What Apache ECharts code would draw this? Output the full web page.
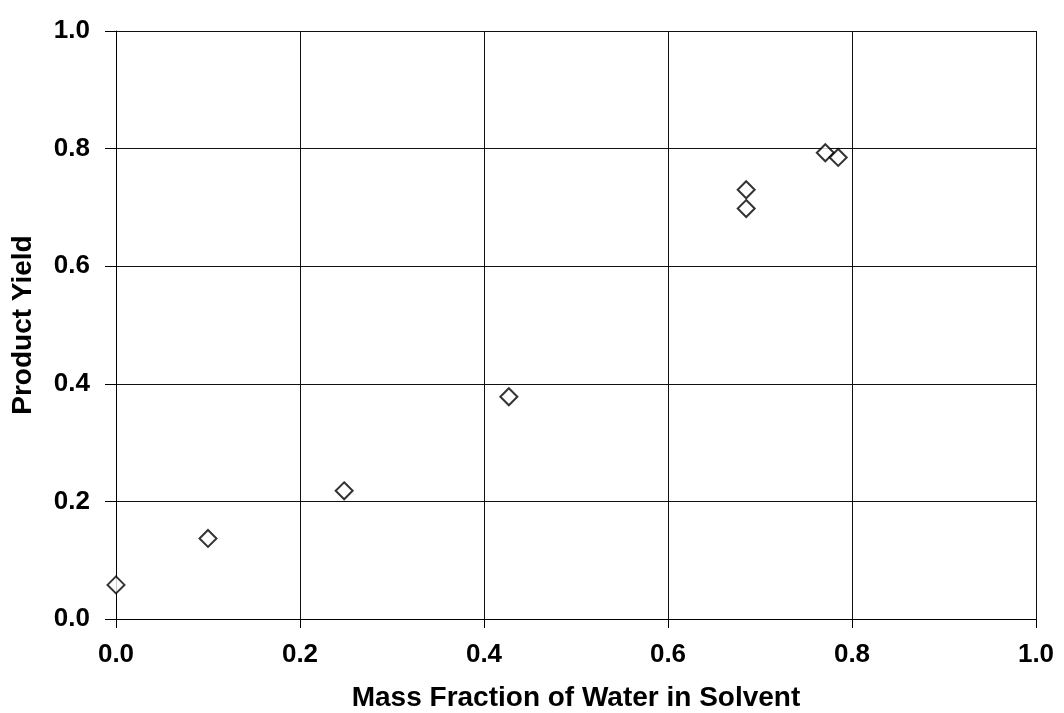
<!DOCTYPE html>
<html>
<head>
<meta charset="utf-8">
<script src="https://cdn.jsdelivr.net/npm/echarts@6/dist/echarts.min.js"></script>
<style>
  html, body { margin: 0; padding: 0; background: #fff; }
  #chart { width: 1064px; height: 713px; }
</style>
</head>
<body>
<div id="chart"></div>
<script>
// mass fraction of water vs. product yield
const waterFraction = [0.0, 0.1, 0.248, 0.427, 0.685, 0.685, 0.771, 0.785];
const productYield = [0.058, 0.137, 0.218, 0.378, 0.730, 0.698, 0.793, 0.785];

const chart = echarts.init(document.getElementById("chart"));
const font = "'Liberation Sans', Arial, sans-serif";

const gridLine = { show: true, lineStyle: { color: "#111", width: 1 } };

chart.setOption({
  animation: false,
  backgroundColor: "#fff",
  grid: { left: 116, right: 28, top: 31, bottom: 94, containLabel: false, outerBoundsMode: "none" },
  xAxis: {
    type: "value",
    min: 0,
    max: 1,
    interval: 0.2,
    name: "Mass Fraction of Water in Solvent",
    nameLocation: "middle",
    nameGap: 65,
    nameTextStyle: { color: "#000", fontFamily: font, fontWeight: "bold", fontSize: 28 },
    axisLine: { show: true, lineStyle: { color: "#000", width: 1 } },
    axisTick: { show: true, length: 9, lineStyle: { color: "#000" } },
    axisLabel: {
      color: "#000", fontFamily: font, fontWeight: "bold", fontSize: 26, margin: 23,
      formatter: (v) => v.toFixed(1),
    },
    splitLine: gridLine,
  },
  yAxis: {
    type: "value",
    min: 0,
    max: 1,
    interval: 0.2,
    name: "Product Yield",
    nameLocation: "middle",
    nameGap: 79,
    nameTextStyle: { color: "#000", fontFamily: font, fontWeight: "bold", fontSize: 28 },
    axisLine: { show: true, lineStyle: { color: "#000", width: 1 } },
    axisTick: { show: true, length: 11, lineStyle: { color: "#000" } },
    axisLabel: {
      color: "#000", fontFamily: font, fontWeight: "bold", fontSize: 26, margin: 26,
      formatter: (v) => v.toFixed(1),
    },
    splitLine: gridLine,
  },
  series: [
    {
      type: "scatter",
      symbol: "diamond",
      symbolSize: [17, 17],
      itemStyle: { color: "#fff", borderColor: "#000", borderWidth: 2 },
      data: waterFraction.map((x, i) => [x, productYield[i]]),
    },
  ],
});
</script>
</body>
</html>
